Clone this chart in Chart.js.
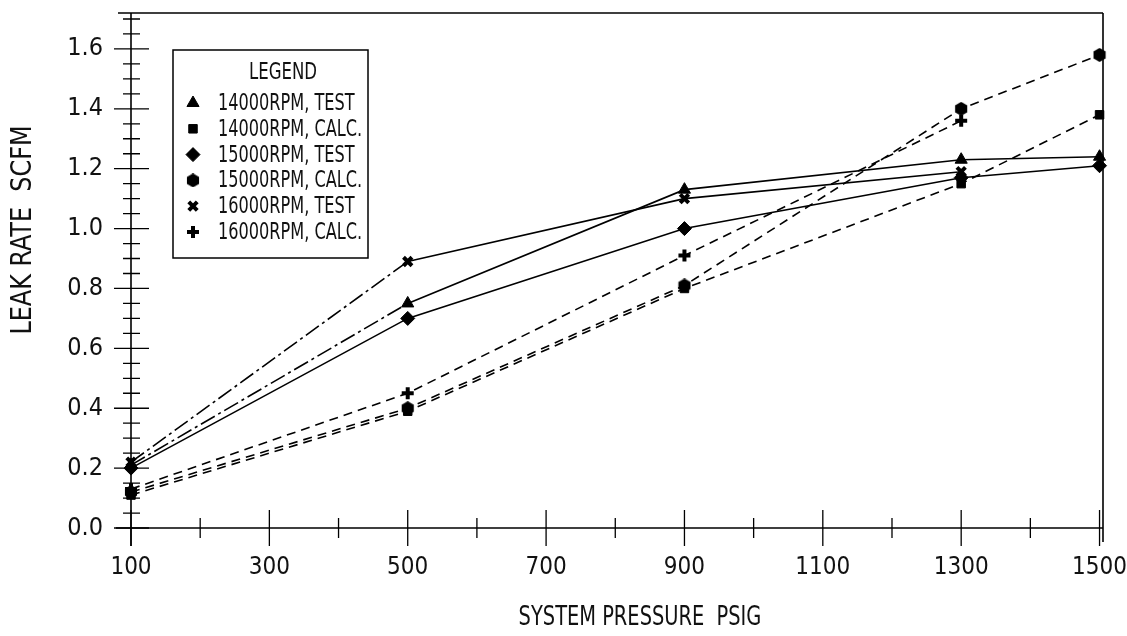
<!DOCTYPE html>
<html>
<head>
<meta charset="utf-8">
<title>Leak rate vs system pressure</title>
<script src="https://cdn.jsdelivr.net/npm/chart.js@4.4.0/dist/chart.umd.min.js"></script>
<style>
  html, body { margin:0; padding:0; background:#fff; }
  #wrap { width:1127px; height:636px; position:relative; }
</style>
</head>
<body>
<div id="wrap"><canvas id="leak"></canvas></div>
<script>
// ---- values ----
const PRESSURE   = [100, 500, 900, 1300, 1500];        // psig
const RPM14_TEST = [0.21, 0.75, 1.13, 1.23, 1.24];
const RPM14_CALC = [0.11, 0.39, 0.80, 1.15, 1.38];
const RPM15_TEST = [0.20, 0.70, 1.00, 1.17, 1.21];
const RPM15_CALC = [0.12, 0.40, 0.81, 1.40, 1.58];
const RPM16_TEST = [0.22, 0.89, 1.10, 1.19, null];
const RPM16_CALC = [0.13, 0.45, 0.91, 1.36, null];

// axis ticks
const X_LABELS = [100, 300, 500, 700, 900, 1100, 1300, 1500];
const X_MINOR  = [200, 400, 600, 800, 1000, 1200, 1400];
const Y_LABELS = [0.0, 0.2, 0.4, 0.6, 0.8, 1.0, 1.2, 1.4, 1.6];
const Y_MINOR  = [0.05, 0.10, 0.15, 0.25, 0.30, 0.35, 0.45, 0.50, 0.55, 0.65, 0.70, 0.75,
                  0.85, 0.90, 0.95, 1.05, 1.10, 1.15, 1.25, 1.30, 1.35, 1.45, 1.50, 1.55,
                  1.65, 1.70];

const X_TITLE = 'SYSTEM PRESSURE\u00a0\u00a0PSIG';
const Y_TITLE = 'LEAK RATE\u00a0\u00a0SCFM';

const FONT_FAMILY = '"DejaVu Sans Condensed", "Liberation Sans Narrow", "Roboto", sans-serif';
const INK = '#111';

// hexagon marker (chart.js has no hexagon style, so paint one)
function hexMark(size){
  const c = document.createElement('canvas');
  c.width = c.height = size;
  const g = c.getContext('2d');
  const r = size / 2;
  g.fillStyle = '#000';
  g.beginPath();
  for (let i = 0; i < 6; i++){
    const a = -Math.PI / 2 + i * Math.PI / 3;
    const px = r + r * Math.cos(a), py = r + r * Math.sin(a);
    if (i === 0) g.moveTo(px, py); else g.lineTo(px, py);
  }
  g.closePath();
  g.fill();
  return c;
}

const toPts = (arr) => PRESSURE.map((p, i) => ({ x: p, y: arr[i] }));
const firstSegDashDot = (ctx) => ctx.p0DataIndex === 0 ? [16, 4, 3, 4] : undefined;

function series(label, arr, style, calc, extra){
  return Object.assign({
    label,
    data: toPts(arr),
    borderColor: '#000',
    backgroundColor: '#000',
    borderWidth: 1.6,
    borderDash: calc ? [9, 6] : [],
    pointStyle: style,
    pointRadius: 6,
    pointBackgroundColor: '#000',
    pointBorderColor: '#000',
    pointBorderWidth: 1,
    tension: 0,
    spanGaps: false,
    clip: false
  }, extra || {});
}

const datasets = [
  series('14000RPM, TEST', RPM14_TEST, 'triangle', false, { pointRadius: 7, segment: { borderDash: firstSegDashDot } }),
  series('14000RPM, CALC.', RPM14_CALC, 'rect', true, { pointRadius: 6 }),
  series('15000RPM, TEST', RPM15_TEST, 'rectRot', false, { pointRadius: 7 }),
  series('15000RPM, CALC.', RPM15_CALC, hexMark(14), true),
  series('16000RPM, TEST', RPM16_TEST, 'crossRot', false, { pointRadius: 6, pointBorderWidth: 4, segment: { borderDash: firstSegDashDot } }),
  series('16000RPM, CALC.', RPM16_CALC, 'cross', true, { pointRadius: 6, pointBorderWidth: 4 })
];

// frame, axis lines and crossing tick marks
const frameTicks = {
  id: 'frameTicks',
  afterDatasetsDraw(chart){
    const { ctx, chartArea: a, scales: { x, y } } = chart;
    ctx.save();
    ctx.strokeStyle = '#000';
    ctx.lineWidth = 1.6;
    ctx.beginPath();
    // left axis (runs a bit past the bottom)
    ctx.moveTo(a.left, a.top); ctx.lineTo(a.left, a.bottom + 18);
    // top border
    ctx.moveTo(a.left - 13, a.top); ctx.lineTo(a.right, a.top);
    // right border
    ctx.moveTo(a.right, a.top); ctx.lineTo(a.right, a.bottom + 14);
    // bottom axis
    ctx.moveTo(a.left - 15, a.bottom); ctx.lineTo(a.right, a.bottom);
    ctx.stroke();

    ctx.lineWidth = 1.3;
    ctx.beginPath();
    X_LABELS.forEach(v => { const px = x.getPixelForValue(v); ctx.moveTo(px, a.bottom - 18); ctx.lineTo(px, a.bottom + 18); });
    X_MINOR.forEach(v => { const px = x.getPixelForValue(v); ctx.moveTo(px, a.bottom - 10); ctx.lineTo(px, a.bottom + 10); });
    Y_LABELS.forEach(v => { const py = y.getPixelForValue(v); ctx.moveTo(a.left - 17, py); ctx.lineTo(a.left + 18, py); });
    Y_MINOR.forEach(v => { const py = y.getPixelForValue(v); ctx.moveTo(a.left - 8, py); ctx.lineTo(a.left + 9, py); });
    ctx.stroke();
    ctx.restore();
  }
};

// axis titles (narrow lettering, placed like the scan)
const axisTitles = {
  id: 'axisTitles',
  afterDraw(chart){
    const ctx = chart.ctx;
    ctx.save();
    ctx.fillStyle = INK;
    ctx.textAlign = 'center';
    ctx.textBaseline = 'middle';
    ctx.font = '26px ' + FONT_FAMILY;
    ctx.save();
    ctx.translate(640, 618);
    ctx.scale(0.83, 1);
    ctx.fillText(X_TITLE, 0, 0);
    ctx.restore();
    ctx.font = '28px ' + FONT_FAMILY;
    ctx.save();
    ctx.translate(24, 230);
    ctx.rotate(-Math.PI / 2);
    ctx.scale(0.95, 1);
    ctx.fillText(Y_TITLE, 0, 0);
    ctx.restore();
    ctx.restore();
  }
};

// boxed legend inside the plot, upper left
const legendBox = {
  id: 'legendBox',
  afterDraw(chart){
    const ctx = chart.ctx;
    ctx.save();
    ctx.strokeStyle = '#000';
    ctx.lineWidth = 1.5;
    ctx.fillStyle = '#fff';
    ctx.fillRect(173, 50, 195, 208);
    ctx.strokeRect(173, 50, 195, 208);
    ctx.fillStyle = INK;
    ctx.font = '23px ' + FONT_FAMILY;
    ctx.textBaseline = 'middle';
    ctx.textAlign = 'center';
    ctx.save();
    ctx.translate(283, 73);
    ctx.scale(0.8, 1);
    ctx.fillText('LEGEND', 0, 0);
    ctx.restore();
    ctx.textAlign = 'left';
    chart.data.datasets.forEach((ds, i) => {
      const yy = 103 + i * 25.8;
      ctx.fillStyle = '#000';
      ctx.strokeStyle = '#000';
      ctx.lineWidth = ds.pointBorderWidth;
      Chart.helpers.drawPoint(ctx, {
        pointStyle: ds.pointStyle,
        radius: ds.pointRadius,
        borderWidth: ds.pointBorderWidth,
        rotation: 0
      }, 193, yy);
      ctx.fillStyle = INK;
      ctx.save();
      ctx.translate(218, yy + 1);
      ctx.scale(0.78, 1);
      ctx.fillText(ds.label, 0, 0);
      ctx.restore();
    });
    ctx.restore();
  }
};

new Chart(document.getElementById('leak'), {
  type: 'line',
  data: { datasets },
  options: {
    responsive: true,
    maintainAspectRatio: false,
    animation: false,
    layout: { padding: { top: 13, right: 24, bottom: 0, left: 0 } },
    plugins: { legend: { display: false }, tooltip: { enabled: false } },
    scales: {
      x: {
        type: 'linear',
        min: 100,
        max: 1505,
        afterBuildTicks: (s) => { s.ticks = X_LABELS.map(v => ({ value: v })); },
        afterFit: (s) => { s.height = 108; s.paddingLeft = 0; s.paddingRight = 0; },
        grid: { display: false, drawTicks: false },
        border: { display: false },
        ticks: {
          color: INK, padding: 25, maxRotation: 0, autoSkip: false,
          font: { family: FONT_FAMILY, size: 24 },
          callback: (v) => String(v)
        },
        title: { display: false }
      },
      y: {
        min: 0,
        max: 1.72,
        afterBuildTicks: (s) => { s.ticks = Y_LABELS.map(v => ({ value: v })); },
        afterFit: (s) => { s.width = 131; s.paddingTop = 0; s.paddingBottom = 0; },
        grid: { display: false, drawTicks: false },
        border: { display: false },
        ticks: {
          color: INK, padding: 28,
          font: { family: FONT_FAMILY, size: 25 },
          callback: (v) => Number(v).toFixed(1)
        },
        title: { display: false }
      }
    }
  },
  plugins: [frameTicks, axisTitles, legendBox]
});
</script>
</body>
</html>
